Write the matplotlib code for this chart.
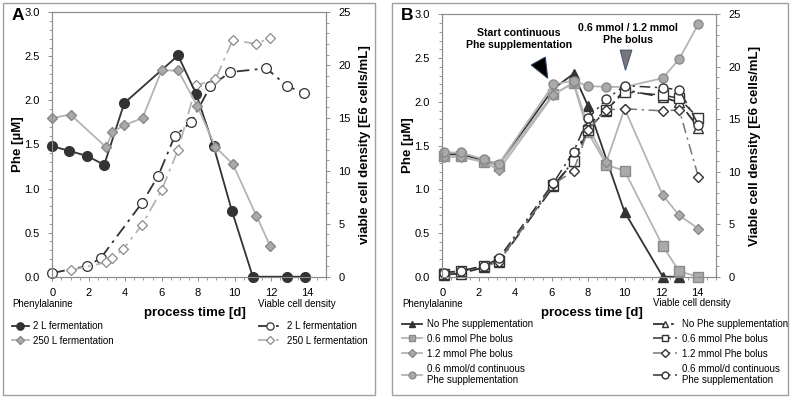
import numpy as np
import matplotlib
matplotlib.use("Agg")
import matplotlib.pyplot as plt
from matplotlib.patches import Rectangle, Polygon
from matplotlib.ticker import MultipleLocator

plt.rcParams['font.family'] = ['Liberation Sans', 'DejaVu Sans']

# ---- panel A data ----
a_x_phe_2l = [0, 0.9, 1.9, 2.85, 3.95, 6.9, 7.9, 8.85, 9.85, 11.0, 12.9, 13.85]
a_phe_2l = [1.48, 1.43, 1.37, 1.27, 1.97, 2.51, 2.07, 1.48, 0.75, 0, 0, 0]
a_x_phe_250 = [0, 1.0, 2.95, 3.3, 3.95, 4.95, 6.0, 6.9, 7.95, 8.95, 9.9, 11.2, 11.95]
a_phe_250 = [1.80, 1.84, 1.47, 1.64, 1.72, 1.80, 2.34, 2.34, 1.94, 1.47, 1.28, 0.69, 0.35]
a_x_vcd_2l = [0, 1.9, 2.65, 4.93, 5.8, 6.72, 7.63, 8.67, 9.77, 11.75, 12.9, 13.8]
a_vcd_2l = [0.35, 1.0, 1.74, 7.0, 9.5, 13.3, 14.65, 18.0, 19.35, 19.7, 18.0, 17.4]
a_x_vcd_250 = [1.0, 2.95, 3.27, 3.9, 4.92, 6.0, 6.9, 7.9, 8.95, 9.9, 11.2, 11.95]
a_vcd_250 = [0.6, 1.36, 1.74, 2.62, 4.89, 8.2, 12.0, 18.1, 18.65, 22.4, 22.0, 22.6]

# ---- panel B data ----
b_days = [0.1, 1.0, 2.3, 3.1, 6.1, 7.2, 8.0, 9.0, 10.0, 12.1, 13.0, 14.05]
b_x_phe_none = [0.1, 1.0, 2.3, 3.1, 6.1, 7.2, 8.0, 10.0, 12.1, 13.0]
b_phe_none = [1.40, 1.40, 1.33, 1.28, 2.15, 2.32, 1.95, 0.74, 0, 0]
b_phe_06 = [1.38, 1.38, 1.31, 1.27, 2.09, 2.21, 1.65, 1.28, 1.21, 0.35, 0.06, 0.0]
b_phe_12 = [1.37, 1.37, 1.31, 1.22, 2.08, 2.22, 1.72, 1.31, 1.92, 0.93, 0.70, 0.55]
b_phe_cont = [1.42, 1.42, 1.34, 1.29, 2.20, 2.24, 2.18, 2.17, 2.17, 2.27, 2.49, 2.89]
b_vcd_none = [0.2, 0.3, 0.9, 1.4, 8.6, 11.0, 14.5, 15.8, 17.8, 17.1, 16.6, 14.2]
b_vcd_06 = [0.3, 0.5, 1.0, 1.5, 8.7, 11.0, 14.0, 15.9, 17.6, 17.3, 17.0, 15.1]
b_vcd_12 = [0.3, 0.5, 1.0, 1.4, 8.8, 10.1, 14.0, 15.9, 16.0, 15.8, 15.9, 9.5]
b_vcd_cont = [0.38, 0.57, 1.02, 1.75, 8.95, 11.9, 15.1, 16.9, 18.2, 18.0, 17.8, 14.5]

W, H = 795, 400
fig = plt.figure(figsize=(W / 100, H / 100), dpi=100)

DARK = '#333333'
GRAY = '#b4b4b4'
GFACE = '#aaaaaa'
GEDGE = '#8a8a8a'
SPINE = '#8c8c8c'
DD = (0, (7, 3, 1.5, 3))


def px_axes(l, t, r, b):
    return fig.add_axes([l / W, 1 - b / H, (r - l) / W, (b - t) / H])


def style(ax, ax2, rlabel, lx):
    ax.set_xlim(0, 15)
    ax.set_ylim(0, 3)
    ax2.set_ylim(0, 25)
    ax.set_xticks(range(0, 15, 2))
    ax.xaxis.set_minor_locator(MultipleLocator(0.5))
    ax.yaxis.set_major_locator(MultipleLocator(0.5))
    ax.yaxis.set_minor_locator(MultipleLocator(0.1))
    ax2.yaxis.set_major_locator(MultipleLocator(5))
    ax2.yaxis.set_minor_locator(MultipleLocator(1))
    ax.yaxis.set_major_formatter(matplotlib.ticker.FormatStrFormatter('%.1f'))
    for a in (ax, ax2):
        for s in a.spines.values():
            s.set_color(SPINE)
            s.set_linewidth(0.8)
        a.tick_params(which='major', direction='out', length=3, width=0.7,
                      color=SPINE, labelsize=8, pad=6)
        a.tick_params(which='minor', direction='out', length=2, width=0.6,
                      color=SPINE)
    ax.tick_params(axis='x', pad=5)
    ax.set_ylabel('Phe [µM]', fontsize=9.5, fontweight='bold')
    ax.yaxis.set_label_coords(lx, 0.5)
    ax2.set_ylabel(rlabel, fontsize=9.5, fontweight='bold', labelpad=6)


def frame(l, t, r, b):
    fig.patches.append(Rectangle((l / W, 1 - b / H), (r - l) / W, (b - t) / H,
                                 transform=fig.transFigure, fill=False,
                                 edgecolor='#a0a0a0', linewidth=1.0))


frame(3, 3, 375, 395)
frame(392, 3, 788, 395)

# ---------------- Panel A ----------------
axA = px_axes(52.3, 12.3, 325.7, 276.7)
axA2 = axA.twinx()
axA.set_zorder(axA2.get_zorder() + 1)
axA.patch.set_visible(False)

lA1, = axA.plot(a_x_phe_2l, a_phe_2l, '-', color=DARK, lw=1.3, marker='o',
                ms=7, mfc=DARK, mec=DARK, clip_on=False, label='2 L fermentation')
lA2, = axA.plot(a_x_phe_250, a_phe_250, '-', color=GRAY, lw=1.3, marker='D',
                ms=5.5, mfc=GFACE, mec=GEDGE, clip_on=False, label='250 L fermentation')
lA3, = axA2.plot(a_x_vcd_2l, a_vcd_2l, linestyle=DD, color=DARK, lw=1.3, marker='o',
                 ms=7, mfc='white', mec=DARK, mew=0.9, clip_on=False,
                 label='2 L fermentation')
lA4, = axA2.plot(a_x_vcd_250, a_vcd_250, linestyle=DD, color=GRAY, lw=1.3, marker='D',
                 ms=5.5, mfc='white', mec=GEDGE, mew=0.9, clip_on=False,
                 label='250 L fermentation')
style(axA, axA2, 'viable cell density [E6 cells/mL]', -0.105)
fig.text(18 / W, 1 - 16 / H, 'A', fontsize=12.5, fontweight='bold', va='center', ha='center')

# ---------------- Panel B ----------------
axB = px_axes(442.3, 14.3, 715.7, 276.7)
axB2 = axB.twinx()
axB2.set_zorder(axB.get_zorder() + 1)
axB2.patch.set_visible(False)

mk = dict(clip_on=False, ms=6.5)
lB1, = axB.plot(b_x_phe_none, b_phe_none, '-', color=DARK, lw=1.3, marker='^',
                mfc=DARK, mec=DARK, label='No Phe supplementation', **mk)
lB2, = axB.plot(b_days, b_phe_06, '-', color=GRAY, lw=1.3, marker='s',
                mfc=GFACE, mec=GEDGE, label='0.6 mmol Phe bolus', **mk)
lB3, = axB.plot(b_days, b_phe_12, '-', color=GRAY, lw=1.3, marker='D',
                mfc=GFACE, mec=GEDGE, label='1.2 mmol Phe bolus',
                clip_on=False, ms=5.5)
lB4, = axB.plot(b_days, b_phe_cont, '-', color=GRAY, lw=1.3, marker='o',
                mfc=GFACE, mec=GEDGE,
                label='0.6 mmol/d continuous\nPhe supplementation', **mk)
lB5, = axB2.plot(b_days, b_vcd_none, linestyle=DD, color=DARK, lw=1.3, marker='^',
                 mfc='white', mec=DARK, label='No Phe supplementation', **mk)
lB6, = axB2.plot(b_days, b_vcd_06, linestyle=DD, color=DARK, lw=1.1, marker='s',
                 mfc='white', mec=DARK, label='0.6 mmol Phe bolus', **mk)
lB7, = axB2.plot(b_days, b_vcd_12, linestyle=DD, color='#777777', lw=1.1, marker='D',
                 mfc='white', mec=DARK, label='1.2 mmol Phe bolus',
                 clip_on=False, ms=5.5)
lB8, = axB2.plot(b_days, b_vcd_cont, linestyle=DD, color=DARK, lw=1.1, marker='o',
                 mfc='white', mec=DARK,
                 label='0.6 mmol/d continuous\nPhe supplementation', **mk)
style(axB, axB2, 'Viable cell density [E6 cells/mL]', -0.105)
fig.text(407 / W, 1 - 15 / H, 'B', fontsize=12.5, fontweight='bold', va='center', ha='center')

axB.text(4.2, 2.72, 'Start continuous\nPhe supplementation', ha='center', va='center',
         fontsize=7.6, fontweight='bold', linespacing=1.25)
axB.text(10.2, 2.77, '0.6 mmol / 1.2 mmol\nPhe bolus', ha='center', va='center',
         fontsize=7.6, fontweight='bold', linespacing=1.25)
axB.add_patch(Polygon([[4.88, 2.42], [5.65, 2.51], [5.78, 2.27]], closed=True,
                      facecolor='black', edgecolor='#2a3a55', lw=0.8))
axB.add_patch(Polygon([[9.76, 2.59], [10.4, 2.59], [10.05, 2.36]], closed=True,
                      facecolor='#777777', edgecolor='#4a5a75', lw=0.8))

# ---------------- x label and legends ----------------
for cx in (195, 592):
    fig.text(cx / W, 1 - 313 / H, 'process time [d]', fontsize=9.5, fontweight='bold',
             ha='center', va='center')

for tx, ty, s in [(12, 304, 'Phenylalanine'), (258, 304, 'Viable cell density'),
                  (402, 304, 'Phenylalanine'), (653, 303, 'Viable cell density')]:
    fig.text(tx / W, 1 - ty / H, s, fontsize=7, ha='left', va='center')

leg_kw = dict(frameon=False, fontsize=7, markerscale=0.75, handletextpad=0.5,
              labelspacing=0.5, borderaxespad=0, borderpad=0, loc='upper left')
fig.legend(handles=[lA1, lA2], bbox_to_anchor=(12 / W, 1 - 321 / H),
           handlelength=1.7, **leg_kw)
fig.legend(handles=[lA3, lA4], bbox_to_anchor=(258 / W, 1 - 321 / H),
           handlelength=2.5, **leg_kw)
fig.legend(handles=[lB1, lB2, lB3, lB4], bbox_to_anchor=(402 / W, 1 - 319 / H),
           handlelength=2.1, **leg_kw)
fig.legend(handles=[lB5, lB6, lB7, lB8], bbox_to_anchor=(653 / W, 1 - 319 / H),
           handlelength=2.5, **leg_kw)

fig.savefig('out.png', dpi=100)
